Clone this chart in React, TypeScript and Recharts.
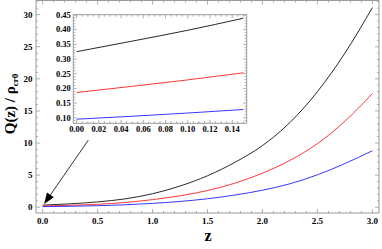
import React from "react";
import { LineChart, Line, XAxis, YAxis, ReferenceLine } from "recharts";

// main panel: Q(z)/rho_cr0 against z
const zValues = [0, 0.25, 0.5, 0.75, 1.0, 1.25, 1.5, 1.75, 2.0, 2.25, 2.5, 2.75, 3.0];
const qBlack = [0.325, 0.53, 0.83, 1.3, 2.1, 3.3, 4.9, 7.0, 9.6, 13.2, 18.0, 24.0, 31.1];
const qRed = [0.186, 0.3, 0.46, 0.74, 1.18, 1.78, 2.6, 3.75, 5.3, 7.3, 9.9, 13.4, 17.7];
const qBlue = [0.095, 0.15, 0.235, 0.38, 0.6, 0.9, 1.32, 1.9, 2.65, 3.65, 5.05, 6.8, 8.8];

// inset: zoom on 0 <= z <= 0.15
const insetZ = [0, 0.05, 0.1, 0.15];
const insetBlack = [0.325, 0.361, 0.398, 0.439];
const insetRed = [0.186, 0.207, 0.229, 0.253];
const insetBlue = [0.095, 0.105, 0.116, 0.128];

const mainXTicks = [0, 0.5, 1.0, 1.5, 2.0, 2.5, 3.0];
const mainYTicks = [0, 5, 10, 15, 20, 25, 30];
const insetXTicks = [0, 0.02, 0.04, 0.06, 0.08, 0.1, 0.12, 0.14];
const insetYTicks = [0.1, 0.15, 0.2, 0.25, 0.3, 0.35, 0.4, 0.45];

// arrow from the inset down to the origin, in data units [z, Q]
const arrowFrom = [0.416, 10.45];
const arrowTo = [0.014, 0.5];

const FRAME = "#999";
const FONT = "'Liberation Serif', 'DejaVu Serif', serif";

const mainData = zValues.map((z, i) => ({ z, black: qBlack[i], red: qRed[i], blue: qBlue[i] }));
const insetData = insetZ.map((z, i) => ({ z, black: insetBlack[i], red: insetRed[i], blue: insetBlue[i] }));

function withMinors(majors: number[], step: number, lo: number, hi: number) {
  const out: number[] = [];
  const n = Math.round((hi - lo) / step);
  for (let i = 0; i <= n; i++) out.push(Math.round((lo + i * step) * 1e6) / 1e6);
  majors.forEach((m) => {
    if (!out.some((v) => Math.abs(v - m) < 1e-9)) out.push(m);
  });
  return out.sort((a, b) => a - b);
}

type Side = "bottom" | "top" | "left" | "right";

function frameTick(
  side: Side,
  majors: number[],
  fmt: ((v: number) => string) | null,
  fontSize: number,
  majorLen: number,
  minorLen: number,
  labelGap: number
) {
  return (props: any) => {
    const { x, y, payload } = props;
    const v = payload.value as number;
    const major = majors.some((m) => Math.abs(m - v) < 1e-9);
    const len = major ? majorLen : minorLen;
    const dx = side === "left" ? len : side === "right" ? -len : 0;
    const dy = side === "bottom" ? -len : side === "top" ? len : 0;
    let label = null;
    if (major && fmt && side === "bottom") {
      label = (
        <text x={x} y={y + labelGap} textAnchor="middle" fontSize={fontSize} fontFamily={FONT} fontWeight="bold" fill="#000">
          {fmt(v)}
        </text>
      );
    }
    if (major && fmt && side === "left") {
      label = (
        <text x={x - labelGap} y={y + fontSize * 0.33} textAnchor="end" fontSize={fontSize} fontFamily={FONT} fontWeight="bold" fill="#000">
          {fmt(v)}
        </text>
      );
    }
    return (
      <g>
        <line x1={x} y1={y} x2={x + dx} y2={y + dy} stroke={FRAME} strokeWidth={0.8} />
        {label}
      </g>
    );
  };
}

const ArrowShape = (props: any) => {
  const { x1, y1, x2, y2 } = props;
  const ang = Math.atan2(y2 - y1, x2 - x1);
  const headLen = 11;
  const halfW = 4.2;
  const bx = x2 - headLen * Math.cos(ang);
  const by = y2 - headLen * Math.sin(ang);
  const px = -Math.sin(ang) * halfW;
  const py = Math.cos(ang) * halfW;
  return (
    <g>
      <line x1={x1} y1={y1} x2={bx} y2={by} stroke="#000" strokeWidth={0.8} />
      <polygon points={`${x2},${y2} ${bx + px},${by + py} ${bx - px},${by - py}`} fill="#000" />
    </g>
  );
};

const YLabel = () => (
  <text
    transform="rotate(-90, 15, 104)"
    x={15}
    y={104}
    textAnchor="middle"
    fontSize={15}
    fontFamily={FONT}
    fontWeight="bold"
    fill="#000"
  >
    Q(z) / ρ
    <tspan fontSize={9} dy={3}>cr0</tspan>
  </text>
);

const XLabel = () => (
  <text x={208} y={241} textAnchor="middle" fontSize={16} fontFamily={FONT} fontWeight="bold" fill="#000">
    z
  </text>
);

const MAIN_X = [-0.06, 3.06];
const MAIN_Y = [-0.9, 32.2];
const INSET_X = [-0.003, 0.153];
const INSET_Y = [0.081, 0.451];
const THIN = 0.5;

export default function App() {
  const mainXAll = withMinors(mainXTicks, 0.1, 0, 3);
  const mainYAll = withMinors(mainYTicks, 1, 0, 32);
  const insetXAll = withMinors(insetXTicks, 0.005, 0, 0.15);
  const insetYAll = withMinors(insetYTicks, 0.01, 0.09, 0.45);
  const fmt1 = (v: number) => v.toFixed(1);
  const fmt0 = (v: number) => String(Math.round(v));
  const fmt2 = (v: number) => v.toFixed(2);

  return (
    <div style={{ position: "fixed", left: 0, top: 0, width: 382, height: 249, background: "#fff" }}>
      <div style={{ position: "absolute", left: 0, top: 0 }}>
        <LineChart width={382} height={249} data={mainData} margin={{ top: 0, right: 2.5, bottom: 0, left: 0 }}>
          <XAxis
            type="number"
            dataKey="z"
            domain={MAIN_X}
            allowDataOverflow
            ticks={mainXAll}
            interval={0}
            height={36}
            tickSize={0}
            tickMargin={0}
            axisLine={{ stroke: FRAME }}
            tickLine={false}
            tick={frameTick("bottom", mainXTicks, fmt1, 9, 4, 2, 10.5)}
          />
          <XAxis
            xAxisId="top"
            orientation="top"
            type="number"
            dataKey="z"
            domain={MAIN_X}
            allowDataOverflow
            ticks={mainXAll}
            interval={0}
            height={THIN}
            tickSize={0}
            tickMargin={0}
            axisLine={{ stroke: FRAME }}
            tickLine={false}
            tick={frameTick("top", mainXTicks, null, 9, 4, 2, 0)}
          />
          <YAxis
            type="number"
            domain={MAIN_Y}
            allowDataOverflow
            ticks={mainYAll}
            interval={0}
            width={36}
            tickSize={0}
            tickMargin={0}
            axisLine={{ stroke: FRAME }}
            tickLine={false}
            tick={frameTick("left", mainYTicks, fmt0, 9, 4, 2, 3.5)}
          />
          <YAxis
            yAxisId="right"
            orientation="right"
            type="number"
            domain={MAIN_Y}
            allowDataOverflow
            ticks={mainYAll}
            interval={0}
            width={THIN}
            tickSize={0}
            tickMargin={0}
            axisLine={{ stroke: FRAME }}
            tickLine={false}
            tick={frameTick("right", mainYTicks, null, 9, 4, 2, 0)}
          />
          <Line type="monotone" dataKey="black" stroke="#111" strokeWidth={0.9} dot={false} isAnimationActive={false} />
          <Line type="monotone" dataKey="red" stroke="#ff2020" strokeWidth={0.9} dot={false} isAnimationActive={false} />
          <Line type="monotone" dataKey="blue" stroke="#2020ff" strokeWidth={0.9} dot={false} isAnimationActive={false} />
          <ReferenceLine
            segment={[
              { x: arrowFrom[0], y: arrowFrom[1] },
              { x: arrowTo[0], y: arrowTo[1] },
            ]}
            shape={ArrowShape}
          />
        </LineChart>
      </div>
      <svg width={382} height={249} style={{ position: "absolute", left: 0, top: 0, pointerEvents: "none" }}>
        <YLabel />
        <XLabel />
      </svg>
      <div style={{ position: "absolute", left: 0, top: 0 }}>
        <LineChart width={382} height={249} data={insetData} margin={{ top: 14.2, right: 134.8, bottom: 125.2, left: 72.8 }}>
          <XAxis
            type="number"
            dataKey="z"
            domain={INSET_X}
            allowDataOverflow
            ticks={insetXAll}
            interval={0}
            height={THIN}
            tickSize={0}
            tickMargin={0}
            axisLine={{ stroke: FRAME }}
            tickLine={false}
            tick={frameTick("bottom", insetXTicks, fmt2, 8.5, 3.5, 2, 9)}
          />
          <XAxis
            xAxisId="top"
            orientation="top"
            type="number"
            dataKey="z"
            domain={INSET_X}
            allowDataOverflow
            ticks={insetXAll}
            interval={0}
            height={THIN}
            tickSize={0}
            tickMargin={0}
            axisLine={{ stroke: FRAME }}
            tickLine={false}
            tick={frameTick("top", insetXTicks, null, 8.5, 3.5, 2, 0)}
          />
          <YAxis
            type="number"
            domain={INSET_Y}
            allowDataOverflow
            ticks={insetYAll}
            interval={0}
            width={THIN}
            tickSize={0}
            tickMargin={0}
            axisLine={{ stroke: FRAME }}
            tickLine={false}
            tick={frameTick("left", insetYTicks, fmt2, 8.5, 3.5, 2, 2.5)}
          />
          <YAxis
            yAxisId="right"
            orientation="right"
            type="number"
            domain={INSET_Y}
            allowDataOverflow
            ticks={insetYAll}
            interval={0}
            width={THIN}
            tickSize={0}
            tickMargin={0}
            axisLine={{ stroke: FRAME }}
            tickLine={false}
            tick={frameTick("right", insetYTicks, null, 8.5, 3.5, 2, 0)}
          />
          <Line type="monotone" dataKey="black" stroke="#111" strokeWidth={0.9} dot={false} isAnimationActive={false} />
          <Line type="monotone" dataKey="red" stroke="#ff2020" strokeWidth={0.9} dot={false} isAnimationActive={false} />
          <Line type="monotone" dataKey="blue" stroke="#2020ff" strokeWidth={0.9} dot={false} isAnimationActive={false} />
        </LineChart>
      </div>
    </div>
  );
}
